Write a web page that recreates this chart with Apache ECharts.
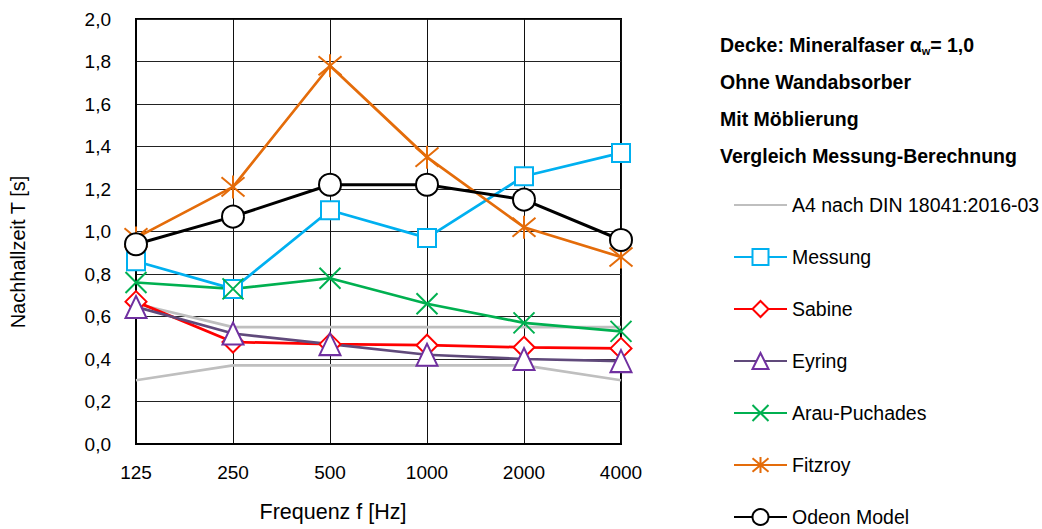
<!DOCTYPE html>
<html><head><meta charset="utf-8">
<script src="https://cdn.jsdelivr.net/npm/echarts@6/dist/echarts.min.js"></script>
<style>html,body{margin:0;padding:0;background:#fff}#c{width:1042px;height:529px}</style>
</head><body><div id="c"></div>
<script>
const categories = ['125','250','500','1000','2000','4000'];
const a4Upper = [0.66, 0.55, 0.55, 0.55, 0.55, 0.55];
const a4Lower = [0.30, 0.37, 0.37, 0.37, 0.37, 0.30];
const messung = [0.86, 0.73, 1.10, 0.97, 1.26, 1.37];
const sabine = [0.67, 0.48, 0.47, 0.465, 0.455, 0.45];
const eyring = [0.645, 0.52, 0.47, 0.42, 0.40, 0.39];
const arau = [0.76, 0.73, 0.78, 0.66, 0.57, 0.53];
const fitzroy = [0.97, 1.21, 1.78, 1.35, 1.02, 0.88];
const odeon = [0.94, 1.07, 1.22, 1.22, 1.15, 0.96];
const yTicks = {min: 0, max: 2.0, interval: 0.2};
const titleLines = ['Ohne Wandabsorber', 'Mit Möblierung', 'Vergleich Messung-Berechnung'];

const FONT = '"Liberation Sans", Arial, sans-serif';
const chart = echarts.init(document.getElementById('c'), null, {renderer: 'svg'});

function mk(name, data, color, symbol, size, lw, markerColor, fill) {
  return {
    name, type: 'line', data, symbol, symbolSize: size, showSymbol: symbol !== 'none',
    lineStyle: {color, width: lw},
    itemStyle: {color: fill || color, borderColor: markerColor || color, borderWidth: 2},
    emphasis: {disabled: true}, animation: false
  };
}
const X = 'path://M0,0L10,10M10,0L0,10';
const STAR = 'path://M0,1L10,11M10,1L0,11M5,0L5,12';
const A4 = 'A4 nach DIN 18041:2016-03';

chart.setOption({
  animation: false,
  textStyle: {fontFamily: FONT},
  grid: {left: 136, right: 421, top: 19, bottom: 85, show: true, borderColor: '#000', borderWidth: 2, backgroundColor: 'transparent'},
  xAxis: {
    type: 'category', data: categories, boundaryGap: false,
    axisLine: {lineStyle: {color: '#000', width: 2}},
    axisTick: {show: false},
    axisLabel: {color: '#000', fontSize: 19, margin: 19, fontFamily: FONT},
    splitLine: {show: true, lineStyle: {color: '#111', width: 1}}
  },
  yAxis: {
    type: 'value', min: yTicks.min, max: yTicks.max, interval: yTicks.interval,
    axisLine: {show: true, lineStyle: {color: '#000', width: 2}},
    axisTick: {show: false},
    axisLabel: {color: '#000', fontSize: 19, margin: 25, fontFamily: FONT,
      formatter: v => v.toFixed(1).replace('.', ',')},
    splitLine: {show: true, lineStyle: {color: '#222', width: 1}}
  },
  legend: {
    orient: 'vertical', left: 733, top: 195, padding: 0, itemWidth: 53, itemHeight: 20, itemGap: 32,
    textStyle: {color: '#000', fontSize: 19.5, lineHeight: 20, fontFamily: FONT},
    data: [{name: A4, itemStyle: {opacity: 0}}, 'Messung', 'Sabine', 'Eyring', 'Arau-Puchades', 'Fitzroy', 'Odeon Model'],
    selectedMode: false
  },
  graphic: [
    {type: 'text', x: 720, y: 45, style: {
      text: '{a|Decke: Mineralfaser α}{s|w}{a|= 1,0}', verticalAlign: 'middle',
      rich: {a: {fontSize: 19.5, fontWeight: 'bold', fontFamily: FONT, fill: '#000'},
             s: {fontSize: 11, fontWeight: 'bold', fontFamily: FONT, fill: '#000', padding: [12, 0, 0, 0]}}
    }},
    ...titleLines.map((t, i) => ({type: 'text', x: 720, y: 82 + i * 37,
      style: {text: t, fontSize: 19.5, fontWeight: 'bold', fontFamily: FONT, fill: '#000', verticalAlign: 'middle'}})),
    {type: 'text', x: 18, y: 252, rotation: Math.PI / 2,
      style: {text: 'Nachhallzeit T [s]', fontSize: 20, fontFamily: FONT, fill: '#000', align: 'center', verticalAlign: 'middle'}},
    {type: 'text', x: 333, y: 512,
      style: {text: 'Frequenz f [Hz]', fontSize: 21.5, fontFamily: FONT, fill: '#000', align: 'center', verticalAlign: 'middle'}}
  ],
  series: [
    mk(A4, a4Upper, '#BFBFBF', 'none', 0, 2.75),
    mk(A4, a4Lower, '#BFBFBF', 'none', 0, 2.75),
    mk('Messung', messung, '#00B0F0', 'rect', 18, 2.75, '#00B0F0', '#fff'),
    mk('Sabine', sabine, '#FF0000', 'diamond', 21, 2.75, '#FF0000', '#fff'),
    mk('Eyring', eyring, '#604A7B', 'triangle', [21, 22], 2.75, '#7030A0', '#fff'),
    mk('Arau-Puchades', arau, '#00B050', X, 21, 2.75, '#00B050', '#00B050'),
    mk('Fitzroy', fitzroy, '#E46C0A', STAR, 23, 2.75, '#E46C0A', '#E46C0A'),
    mk('Odeon Model', odeon, '#000000', 'circle', 22, 3, '#000000', '#fff')
  ]
});
</script></body></html>
